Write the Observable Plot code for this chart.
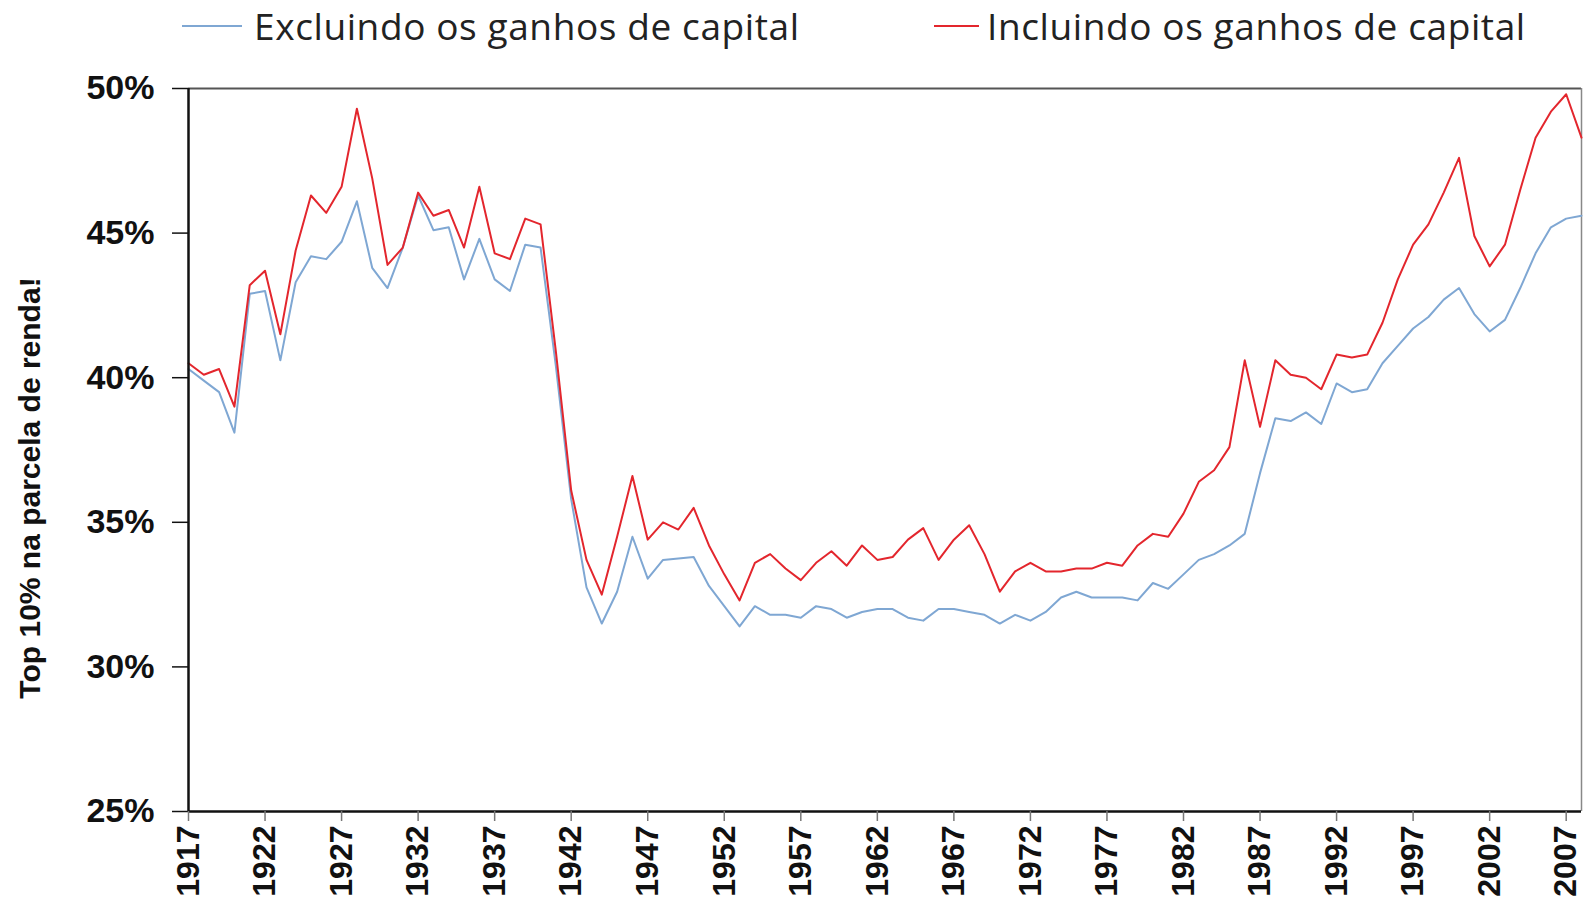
<!DOCTYPE html>
<html>
<head>
<meta charset="utf-8">
<script src="https://cdn.jsdelivr.net/npm/d3@7"></script>
<script src="https://cdn.jsdelivr.net/npm/@observablehq/plot@0.6"></script>
<style>
  body { margin: 0; background: #fff; width: 1583px; height: 905px; overflow: hidden; }
  #legend { position: relative; height: 55px; font-family: "Open Sans", "Noto Sans", sans-serif; font-size: 37px; letter-spacing: 0.6px; color: #222; }
  .item { position: absolute; top: 1px; display: flex; align-items: center; white-space: nowrap; line-height: 50px; }
  .swatch { display: inline-block; height: 0; }
  #chart svg { display: block; }
</style>
</head>
<body>
<div id="legend"></div>
<div id="chart"></div>
<script>
const years = d3.range(1917, 2009);
const excluding = [
  40.3, 39.9, 39.5, 38.1, 42.9, 43.0, 40.6, 43.3, 44.2, 44.1,
  44.7, 46.1, 43.8, 43.1, 44.5, 46.3, 45.1, 45.2, 43.4, 44.8,
  43.4, 43.0, 44.6, 44.5, 40.4, 35.8, 32.75, 31.5, 32.6, 34.5,
  33.05, 33.7, 33.75, 33.8, 32.8, 32.1, 31.4, 32.1, 31.8, 31.8,
  31.7, 32.1, 32.0, 31.7, 31.9, 32.0, 32.0, 31.7, 31.6, 32.0,
  32.0, 31.9, 31.8, 31.5, 31.8, 31.6, 31.9, 32.4, 32.6, 32.4,
  32.4, 32.4, 32.3, 32.9, 32.7, 33.2, 33.7, 33.9, 34.2, 34.6,
  36.7, 38.6, 38.5, 38.8, 38.4, 39.8, 39.5, 39.6, 40.5, 41.1,
  41.7, 42.1, 42.7, 43.1, 42.2, 41.6, 42.0, 43.1, 44.3, 45.2,
  45.5, 45.6
];
const including = [
  40.5, 40.1, 40.3, 39.0, 43.2, 43.7, 41.5, 44.4, 46.3, 45.7,
  46.6, 49.3, 46.9, 43.9, 44.5, 46.4, 45.6, 45.8, 44.5, 46.6,
  44.3, 44.1, 45.5, 45.3, 40.9, 36.1, 33.7, 32.5, 34.5, 36.6,
  34.4, 35.0, 34.75, 35.5, 34.2, 33.2, 32.3, 33.6, 33.9, 33.4,
  33.0, 33.6, 34.0, 33.5, 34.2, 33.7, 33.8, 34.4, 34.8, 33.7,
  34.4, 34.9, 33.9, 32.6, 33.3, 33.6, 33.3, 33.3, 33.4, 33.4,
  33.6, 33.5, 34.2, 34.6, 34.5, 35.3, 36.4, 36.8, 37.6, 40.6,
  38.3, 40.6, 40.1, 40.0, 39.6, 40.8, 40.7, 40.8, 41.9, 43.4,
  44.6, 45.3, 46.4, 47.6, 44.9, 43.85, 44.6, 46.5, 48.3, 49.2,
  49.8, 48.3
];
const seriesNames = ["Excluindo os ganhos de capital", "Incluindo os ganhos de capital"];
const seriesColors = ["#7fa7d3", "#e3262d"];
const yTicks = [25, 30, 35, 40, 45, 50];
const xTicks = d3.range(1917, 2008, 5);
const yLabel = "Top 10% na parcela de renda!";

const rows = [];
years.forEach((yr, i) => {
  rows.push({year: yr, value: excluding[i], series: seriesNames[0]});
  rows.push({year: yr, value: including[i], series: seriesNames[1]});
});

// legend (HTML, above the SVG)
const legend = document.getElementById("legend");
const legendLeft = [182, 934];
const swatchWidth = [60, 45];
const swatchGap = [12, 8];
seriesNames.forEach((name, i) => {
  const it = document.createElement("div");
  it.className = "item";
  it.style.left = legendLeft[i] + "px";
  const sw = document.createElement("span");
  sw.className = "swatch";
  sw.style.borderTop = "2px solid " + seriesColors[i];
  sw.style.width = swatchWidth[i] + "px";
  sw.style.marginRight = swatchGap[i] + "px";
  it.appendChild(sw);
  const tx = document.createElement("span");
  tx.textContent = name;
  it.appendChild(tx);
  legend.appendChild(it);
});

const boldFont = "'Liberation Sans', Arial, sans-serif";
const chart = Plot.plot({
  width: 1583,
  height: 850,
  marginTop: 33,
  marginLeft: 188,
  marginRight: 2,
  marginBottom: 94,
  style: {fontFamily: boldFont, background: "#fff", overflow: "visible"},
  x: {domain: [1917, 2008]},
  y: {domain: [25, 50]},
  color: {domain: seriesNames, range: seriesColors},
  marks: [
    Plot.ruleY([50], {stroke: "#555", strokeWidth: 2}),
    Plot.ruleX([2008], {stroke: "#888", strokeWidth: 1.5}),
    Plot.line(rows, {x: "year", y: "value", z: "series", stroke: "series", strokeWidth: 2, curve: "linear"}),
    Plot.ruleY([25], {stroke: "#111", strokeWidth: 2.5}),
    Plot.ruleX([1917], {stroke: "#111", strokeWidth: 2.5}),
    Plot.axisY({ticks: yTicks, tickFormat: d => d + "%", tickSize: 16, tickPadding: 18, fontSize: 34, fontWeight: "bold", label: null, stroke: "#111", strokeWidth: 1.5, fill: "#111"}),
    Plot.axisX({ticks: xTicks, tickFormat: d => String(d), tickRotate: -90, tickSize: 10, tickPadding: 4, fontSize: 32, fontWeight: "bold", label: null, stroke: "#777", strokeWidth: 1.5, fill: "#111"}),
    Plot.text([yLabel], {frameAnchor: "left", text: d => d, rotate: -90, dx: -158, dy: 38, fontSize: 30, fontWeight: "bold", fill: "#111", textAnchor: "middle"})
  ]
});
document.getElementById("chart").appendChild(chart);
</script>
</body>
</html>
